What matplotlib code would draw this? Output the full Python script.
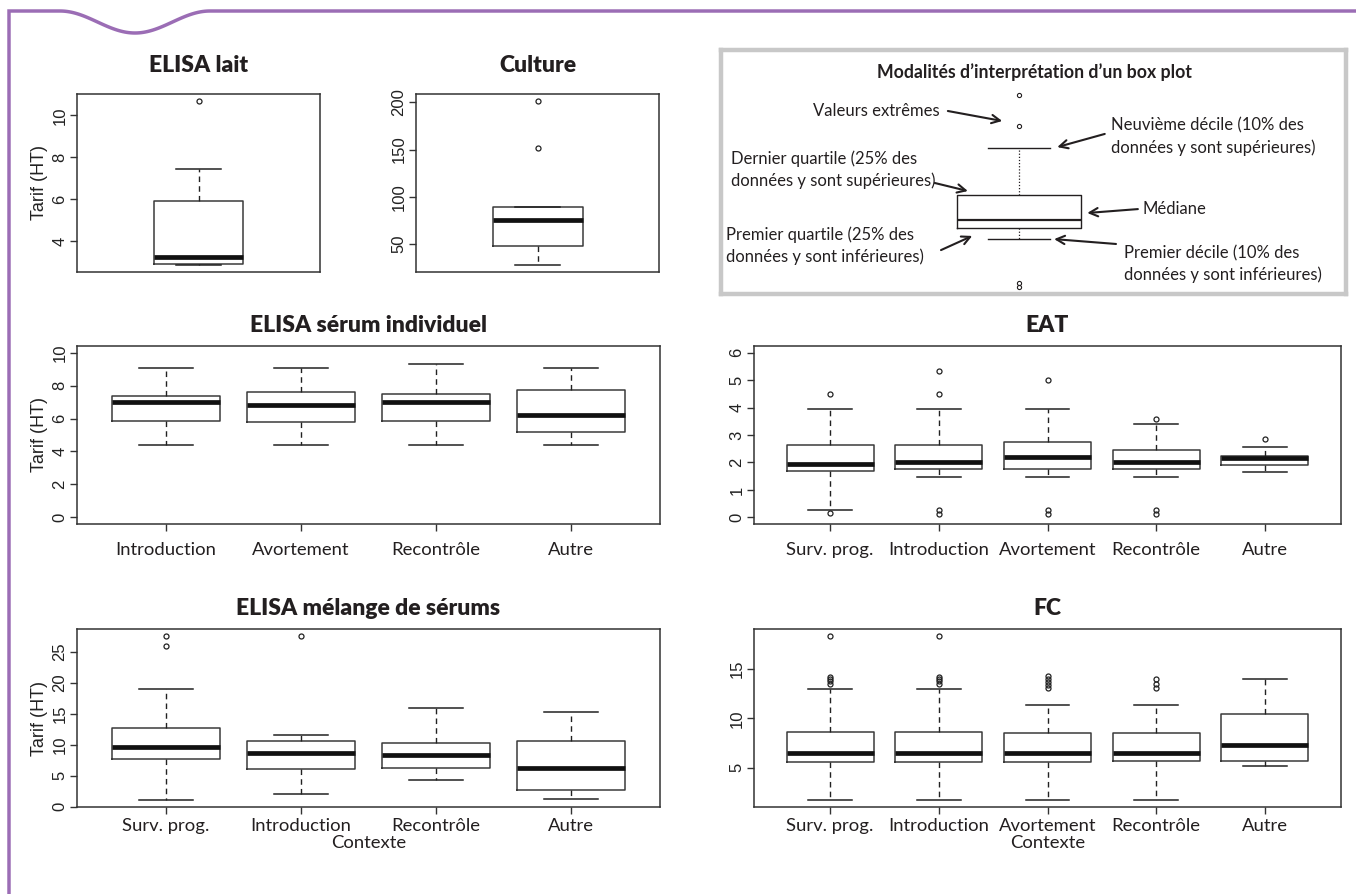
import numpy as np
import matplotlib.pyplot as plt
from matplotlib.ticker import MultipleLocator

W, H = 1356, 894

# ---------------- values ----------------
lait_cats = [""]
lait_lo, lait_q1, lait_med, lait_q3, lait_hi = [2.83], [2.88], [3.25], [5.9], [7.45]
lait_out = [[10.7]]

cult_cats = [""]
cult_lo, cult_q1, cult_med, cult_q3, cult_hi = [27], [48], [75], [89], [89]
cult_out = [[152, 202]]

sero_cats = ["Introduction", "Avortement", "Recontrôle", "Autre"]
sero_lo = [4.38, 4.38, 4.38, 4.38]
sero_q1 = [5.82, 5.78, 5.82, 5.21]
sero_med = [7.0, 6.8, 7.0, 6.2]
sero_q3 = [7.37, 7.62, 7.47, 7.76]
sero_hi = [9.09, 9.09, 9.33, 9.09]
sero_out = [[], [], [], []]

eat_cats = ["Surv. prog.", "Introduction", "Avortement", "Recontrôle", "Autre"]
eat_lo = [0.28, 1.46, 1.46, 1.46, 1.65]
eat_q1 = [1.70, 1.76, 1.76, 1.76, 1.89]
eat_med = [1.95, 2.01, 2.20, 2.01, 2.17]
eat_q3 = [2.64, 2.64, 2.73, 2.44, 2.23]
eat_hi = [3.93, 3.93, 3.93, 3.41, 2.56]
eat_out = [[4.5, 0.16], [5.34, 4.5, 0.26, 0.13], [5.0, 0.26, 0.13], [3.57, 0.26, 0.13], [2.84]]

mel_cats = ["Surv. prog.", "Introduction", "Recontrôle", "Autre"]
mel_lo = [1.02, 2.03, 4.34, 1.28]
mel_q1 = [7.7, 6.1, 6.2, 2.62]
mel_med = [9.57, 8.67, 8.4, 6.16]
mel_q3 = [12.62, 10.54, 10.2, 10.54]
mel_hi = [18.98, 11.5, 15.86, 15.3]
mel_out = [[25.96, 27.57], [27.57], [], []]

fc_cats = ["Surv. prog.", "Introduction", "Avortement", "Recontrôle", "Autre"]
fc_lo = [1.7, 1.7, 1.7, 1.7, 5.15]
fc_q1 = [5.57, 5.57, 5.57, 5.7, 5.69]
fc_med = [6.53, 6.53, 6.53, 6.53, 7.34]
fc_q3 = [8.62, 8.62, 8.52, 8.52, 10.44]
fc_hi = [13.0, 13.0, 11.4, 11.4, 13.97]
fc_out = [[18.4, 14.25, 14.0, 13.75, 13.5], [18.4, 14.25, 14.0, 13.75, 13.5],
          [14.3, 14.0, 13.7, 13.4, 13.1], [14.0, 13.5, 13.1], []]

# schematic box of the legend (arbitrary units 0..1)
demo_lo, demo_q1, demo_med, demo_q3, demo_hi = 0.225, 0.270, 0.303, 0.406, 0.598
demo_out = [0.816, 0.689, 0.045, 0.029]

INK = "#231f20"
TXT = "Lato"
NUM = "Liberation Sans"


def rect(l, t, r, b):
    return [l / W, 1 - b / H, (r - l) / W, (b - t) / H]


def stats(cats, lo, q1, med, q3, hi, out):
    return [dict(label=c, whislo=a, q1=b, med=m, q3=d, whishi=e, fliers=f)
            for c, a, b, m, d, e, f in zip(cats, lo, q1, med, q3, hi, out)]


def boxpanel(ax, st, title, step, ylim=None, width=0.8, tpad=10, xpad=8, ylabel=True, xlabel=False):
    n = len(st)
    ax.bxp(st, widths=width, manage_ticks=True,
           boxprops=dict(color="#3a3a3a", lw=1.1),
           medianprops=dict(color="#111111", lw=3.4, solid_capstyle="butt"),
           whiskerprops=dict(color="#222222", lw=1.0, linestyle=(0, (4, 3))),
           capprops=dict(color="#222222", lw=1.1),
           flierprops=dict(marker="o", markersize=3.6, markerfacecolor="none",
                           markeredgecolor="#222222", markeredgewidth=0.9))
    ax.set_xlim(0.5 - 0.04 * n, n + 0.5 + 0.04 * n)
    if ylim is None:
        vals = [v for s in st for v in [s["whislo"], s["whishi"]] + list(s["fliers"])]
        ylim = (min(vals), max(vals))
    pad = 0.04 * (ylim[1] - ylim[0])
    ax.set_ylim(ylim[0] - pad, ylim[1] + pad)
    ax.yaxis.set_major_locator(MultipleLocator(step))
    for sp in ax.spines.values():
        sp.set_color("#333333")
        sp.set_linewidth(1.1)
    ax.tick_params(length=5, width=1.0, color="#333333")
    ax.tick_params(axis="y", pad=2, labelsize=12, labelcolor="#222222")
    ax.tick_params(axis="x", pad=xpad, labelsize=13.3, labelcolor=INK)
    for lab in ax.get_yticklabels():
        lab.set_family(NUM)
        lab.set_rotation(90)
        lab.set_va("center")
    for lab in ax.get_xticklabels():
        lab.set_family(TXT)
    if n == 1:
        ax.set_xticks([])
    ax.set_title(title, family=TXT, fontweight="heavy", fontsize=16.5, color=INK, pad=tpad)
    if ylabel:
        ax.set_ylabel("Tarif (HT)", family=NUM, fontsize=13, color="#222222", labelpad=3)
    if xlabel:
        ax.set_xlabel("Contexte", family=TXT, fontsize=13.3, color=INK, labelpad=1)


fig = plt.figure(figsize=(W / 100, H / 100), dpi=100)

# purple page frame with its little wave
bg = fig.add_axes([0, 0, 1, 1])
bg.set_xlim(0, W)
bg.set_ylim(H, 0)
bg.axis("off")
xw = np.linspace(60, 210, 80)
yw = 11 + 22 * (1 - np.cos(2 * np.pi * (xw - 60) / 150)) / 2
fx = np.concatenate([[9, 9], xw, [W]])
fy = np.concatenate([[H, 11], yw, [11]])
bg.plot(fx, fy, color="#9b6db5", lw=2.5, solid_joinstyle="miter")

ax = fig.add_axes(rect(77, 94, 320, 272))
boxpanel(ax, stats(lait_cats, lait_lo, lait_q1, lait_med, lait_q3, lait_hi, lait_out),
         "ELISA lait", 2, width=0.4, tpad=16)
ax = fig.add_axes(rect(416, 94, 659, 272))
boxpanel(ax, stats(cult_cats, cult_lo, cult_q1, cult_med, cult_q3, cult_hi, cult_out),
         "Culture", 50, width=0.4, tpad=16, ylabel=False)

ax = fig.add_axes(rect(77, 346, 660, 524))
boxpanel(ax, stats(sero_cats, sero_lo, sero_q1, sero_med, sero_q3, sero_hi, sero_out),
         "ELISA sérum individuel", 2, ylim=(0, 10))
ax = fig.add_axes(rect(754, 346, 1341, 524))
boxpanel(ax, stats(eat_cats, eat_lo, eat_q1, eat_med, eat_q3, eat_hi, eat_out),
         "EAT", 1, ylim=(0, 6), ylabel=False)

ax = fig.add_axes(rect(77, 629, 660, 807))
boxpanel(ax, stats(mel_cats, mel_lo, mel_q1, mel_med, mel_q3, mel_hi, mel_out),
         "ELISA mélange de sérums", 5, xpad=3, xlabel=True)
ax = fig.add_axes(rect(754, 629, 1341, 807))
boxpanel(ax, stats(fc_cats, fc_lo, fc_q1, fc_med, fc_q3, fc_hi, fc_out),
         "FC", 5, xpad=3, ylabel=False, xlabel=True)

# legend box : how to read a box plot
leg = fig.add_axes(rect(721, 50, 1346, 294))
demo = [dict(whislo=demo_lo, q1=demo_q1, med=demo_med, q3=demo_q3, whishi=demo_hi, fliers=demo_out)]
leg.bxp(demo, positions=[0.477], widths=0.198, manage_ticks=False,
        boxprops=dict(color=INK, lw=1.0),
        medianprops=dict(color=INK, lw=1.6),
        whiskerprops=dict(color=INK, lw=0.9, linestyle=(0, (1, 1.5))),
        capprops=dict(color=INK, lw=1.0),
        flierprops=dict(marker="o", markersize=3, markerfacecolor="none",
                        markeredgecolor=INK, markeredgewidth=0.8))
leg.set_xlim(0, 1)
leg.set_ylim(0, 1)
leg.set_xticks([])
leg.set_yticks([])
for sp in leg.spines.values():
    sp.set_color("#c8c8c8")
    sp.set_linewidth(3.2)

leg.text(0.501, 0.91, "Modalités d\u2019interprétation d\u2019un box plot", ha="center", va="center",
         family=TXT, fontweight="bold", fontsize=12.7, color=INK)
notes = [
    ("Valeurs extrêmes", 0.147, 0.750, (0.363, 0.750), (0.450, 0.709)),
    ("Neuvième décile (10% des\ndonnées y sont supérieures)", 0.624, 0.645, (0.614, 0.656), (0.538, 0.602)),
    ("Dernier quartile (25% des\ndonnées y sont supérieures)", 0.016, 0.508, (0.342, 0.455), (0.395, 0.422)),
    ("Médiane", 0.675, 0.348, (0.667, 0.348), (0.586, 0.332)),
    ("Premier quartile (25% des\ndonnées y sont inférieures)", 0.008, 0.197, (0.352, 0.180), (0.402, 0.238)),
    ("Premier décile (10% des\ndonnées y sont inférieures)", 0.645, 0.123, (0.632, 0.205), (0.533, 0.225)),
]
for s, tx, ty, tail, head in notes:
    leg.text(tx, ty, s, ha="left", va="center", family=TXT, fontsize=12,
             color=INK, linespacing=1.4)
    leg.annotate("", xy=head, xytext=tail,
                 arrowprops=dict(arrowstyle="->,head_length=0.6,head_width=0.3",
                                 lw=1.5, color=INK, shrinkA=0, shrinkB=0))

fig.savefig("out.png", dpi=100)
